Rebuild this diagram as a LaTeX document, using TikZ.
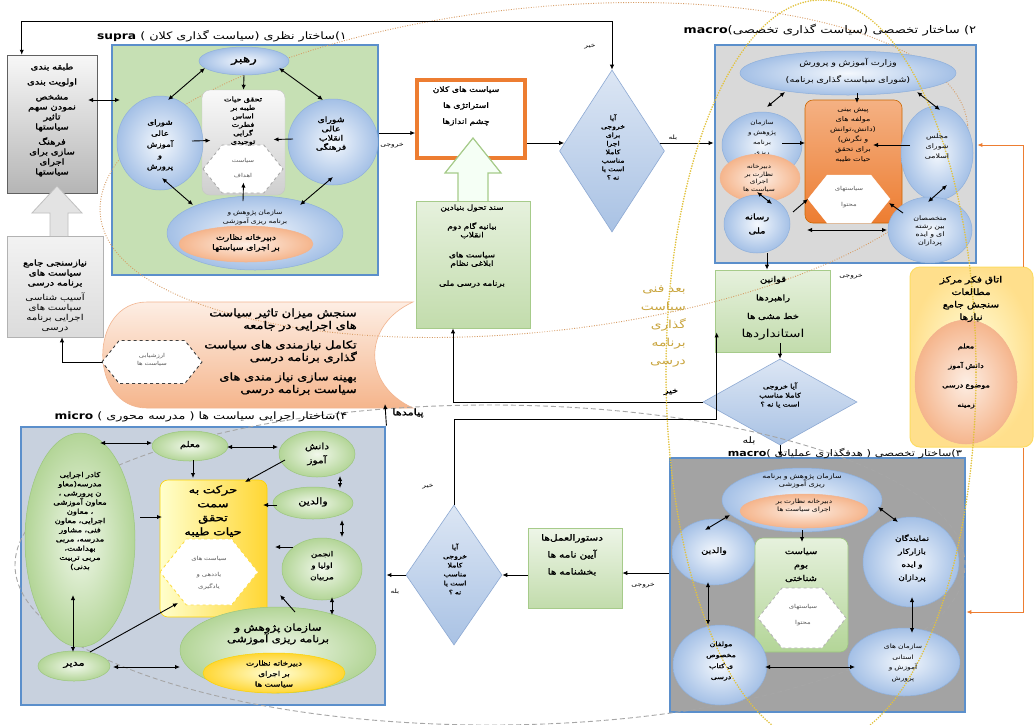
\documentclass[tikz,border=0pt]{standalone}
\usepackage{fontspec}
\usetikzlibrary{shapes.geometric,arrows.meta,calc}
\TeXXeTstate=1
\newfontfamily\fa[Script=Arabic,FakeStretch=1.25,BoldFont={DejaVu Sans},BoldFeatures={FakeBold=1.4}]{DejaVu Sans}
\newfontfamily\lat[FakeStretch=1.2]{DejaVu Sans}
\newcommand{\rl}[1]{\beginR#1\endR}
\definecolor{fblue}{HTML}{5B8FCB}
\definecolor{supg}{HTML}{C6E0B4}
\definecolor{macg}{HTML}{D9D9D9}
\definecolor{macd}{HTML}{A3A3A3}
\definecolor{micb}{HTML}{C8D1DE}
\definecolor{ellin}{HTML}{F4F8FD}
\definecolor{ellout}{HTML}{A4C0E6}
\definecolor{elldr}{HTML}{8FB0DB}
\definecolor{salin}{HTML}{FDEEE4}
\definecolor{salout}{HTML}{F5B58C}
\definecolor{saldr}{HTML}{F2B48F}
\definecolor{grin}{HTML}{F1F8EB}
\definecolor{grout}{HTML}{B3D597}
\definecolor{grdr}{HTML}{9CC67E}
\definecolor{orng}{HTML}{ED7D31}
\definecolor{goldt}{HTML}{C9A53E}
\definecolor{doty}{HTML}{E2C23C}
\definecolor{doto}{HTML}{D79B62}
\definecolor{dashg}{HTML}{A6A6A6}
\definecolor{diain}{HTML}{DCE6F4}
\definecolor{diaout}{HTML}{A9C2E4}
\definecolor{diadr}{HTML}{8DA9D3}
\definecolor{gbt}{HTML}{E6F1DD}
\definecolor{gbb}{HTML}{C2DCAC}
\definecolor{gbd}{HTML}{A6CB8A}
\newcommand{\hexa}[5][]{\path[#1] ({#2-#4},{#3}) -- ({#2-#4+0.8*#5},{#3-#5}) -- ({#2+#4-0.8*#5},{#3-#5}) -- ({#2+#4},{#3}) -- ({#2+#4-0.8*#5},{#3+#5}) -- ({#2-#4+0.8*#5},{#3+#5}) -- cycle;}
\begin{document}
\begin{tikzpicture}[x=1pt,y=-1pt,
  arr/.style={-{Latex[length=5pt,width=4.4pt]}, line width=0.9pt},
  darr/.style={{Latex[length=5pt,width=4.4pt]}-{Latex[length=5pt,width=4.4pt]}, line width=0.9pt},
  oarr/.style={-{Latex[length=5pt,width=4.4pt]}, line width=0.9pt, draw=orng, color=orng},
  bframe/.style={draw=fblue, line width=2.8pt, inner sep=0pt},
  blell/.style={ellipse, inner sep=0pt, draw=elldr, line width=0.5pt, inner color=ellin, outer color=ellout},
  grell/.style={ellipse, inner sep=0pt, draw=grdr, line width=0.5pt, inner color=grin, outer color=grout},
  salell/.style={ellipse, inner sep=0pt, draw=saldr, line width=0.5pt, inner color=salin, outer color=salout},
  dia/.style={diamond, inner sep=0pt, draw=diadr, line width=0.6pt, top color=diain, bottom color=diaout},
  gbx/.style={rectangle, inner sep=0pt, draw=gbd, line width=0.7pt, top color=gbt, bottom color=gbb},
  fa/.style n args={3}{inner sep=0pt, align=center, text width=#1, font=\fa\fontsize{#2}{#3}\selectfont},
  lbl/.style={inner sep=0pt, font=\fa\fontsize{#1}{#1}\selectfont, execute at begin node={\beginR}, execute at end node={\endR}},
  lbl/.default=6,
  hx/.style={fill=white, draw=dashg, dashed, line width=0.8pt},
]
\useasboundingbox (0,0) rectangle (1035,724);
\fill[white] (0,0) rectangle (1035,724);

% ---------- frames ----------
\node[bframe, fill=supg, minimum width=266pt, minimum height=230pt] (supra) at (245,160) {};
\node[bframe, fill=macg, minimum width=261pt, minimum height=218pt] (mac2) at (845.5,154) {};
\node[bframe, fill=macd, minimum width=295pt, minimum height=254pt] (mac3) at (817.5,585) {};
\node[bframe, fill=micb, minimum width=364pt, minimum height=278pt] (micro) at (203,566) {};

% ---------- left gray boxes ----------
\node[draw=gray!75!black, line width=0.5pt, top color=gray!6, bottom color=gray!58, minimum width=90pt, minimum height=138pt, inner sep=0pt] (grayb) at (52,124) {};
\node[draw=gray!60, line width=0.5pt, top color=gray!10, bottom color=gray!28, minimum width=96pt, minimum height=101pt, inner sep=0pt] (lowb) at (55,286.5) {};
\draw[draw=gray!50, fill=gray!22, line width=0.8pt] (50,236) -- (50,213) -- (32,213) -- (57,186) -- (82,213) -- (68,213) -- (68,236);

% ---------- salmon outcome shape ----------
\path[draw=saldr, line width=0.6pt, top color=salin, bottom color=salout] (147,302) -- (413,302) .. controls (362,325) and (362,385) .. (413,408) -- (147,408) .. controls (88,408) and (88,302) .. (147,302) -- cycle;
\hexa[fill=white, draw=black!75, dashed, line width=0.9pt]{152}{362}{50}{21.5}
\coordinate (evalW) at (102,362);
\coordinate (outc) at (385,404);

% ---------- middle boxes ----------
\node[draw=orng, line width=3.5pt, fill=white, minimum width=108pt, minimum height=78pt, inner sep=0pt] (orgb) at (471,119) {};
\draw[fill=green!4!white, draw=gbd, line width=1.2pt] (458,202) -- (458,173) -- (445,173) -- (473,138) -- (501,173) -- (488,173) -- (488,202);
\node[gbx, minimum width=114pt, minimum height=127pt] (gbox) at (473,264.5) {};
\node[gbx, minimum width=115pt, minimum height=82pt] (laws) at (772.5,311) {};
\node[gbx, top color=gbt!70!white, minimum width=94pt, minimum height=80pt] (dostur) at (575,568) {};
\node[rounded corners=10pt, draw=yellow!60!orange!60, line width=1pt, inner color=yellow!12, outer color=yellow!45!orange!45, minimum width=123pt, minimum height=180pt, inner sep=0pt] (yel) at (971.5,357) {};

\node[dia, minimum width=105pt, minimum height=162pt] (d1) at (612,151) {};
\node[dia, minimum width=154pt, minimum height=86pt] (d2) at (780,402) {};
\node[dia, minimum width=96pt, minimum height=140pt] (d3) at (454,575) {};

% ---------- big dotted / dashed ellipses ----------
\draw[doto, line width=0.9pt, dash pattern=on 0.9pt off 1.6pt, rotate around={6:(534,170)}] (534,170) ellipse [x radius=436pt, y radius=162pt];
\draw[dashg, line width=0.9pt, dash pattern=on 5pt off 3pt] (490,565) ellipse [x radius=475pt, y radius=160pt];

% ---------- supra internals ----------
\node[blell, minimum width=90pt, minimum height=28pt] (rahbar) at (244,61) {};
\node[rounded corners=8pt, draw=gray!45, top color=gray!5, bottom color=gray!38, minimum width=83pt, minimum height=105pt, inner sep=0pt] (cent) at (243.5,142.5) {};
\hexa[hx]{243}{169}{40}{24}
\node[blell, minimum width=86pt, minimum height=94pt] (sh1) at (160,143) {};
\node[blell, minimum width=90pt, minimum height=86pt] (sh2) at (333,142) {};
\node[blell, minimum width=176pt, minimum height=74pt] (sazS) at (255,233) {};
\node[salell, minimum width=134pt, minimum height=36pt] (dabS) at (246,244) {};

% ---------- macro 2 internals ----------
\node[blell, minimum width=216pt, minimum height=44pt] (vez) at (848,73) {};
\node[rounded corners=8pt, draw=orange!80!black, line width=0.6pt, top color=orng!60!white, bottom color=orng, minimum width=97pt, minimum height=123pt, inner sep=0pt] (orng) at (853.5,161.5) {};
\hexa[fill=white, draw=white]{849}{199}{41}{24}
\coordinate (hexM) at (849,199);
\node[blell, minimum width=80pt, minimum height=66pt] (sazM) at (762,145) {};
\node[fa={70pt}{5.8}{10}] (sazM-t) at (762,143) {\rl{سازمان}\\\rl{پژوهش و}\\\rl{برنامه}\\\rl{ریزی}\\\rl{آموزشی}};
\node[salell, minimum width=80pt, minimum height=48pt] (dabM) at (760,178) {};
\node[blell, minimum width=66pt, minimum height=58pt] (rasane) at (757,224) {};
\node[blell, minimum width=72pt, minimum height=94pt] (majles) at (937,153) {};
\node[blell, minimum width=84pt, minimum height=66pt] (motakh) at (930,230) {};
\node[salell, minimum width=102pt, minimum height=124pt] (yelE) at (966,382) {};

% ---------- macro 3 internals ----------
\node[blell, minimum width=160pt, minimum height=64pt] (sazM3) at (802,500) {};
\node[salell, minimum width=128pt, minimum height=34pt] (dabM3) at (804,511) {};
\node[blell, minimum width=84pt, minimum height=66pt] (valM3) at (714,552) {};
\node[rounded corners=8pt, draw=grdr, line width=0.6pt, top color=gbt, bottom color=grout, minimum width=93pt, minimum height=114pt, inner sep=0pt] (grnR) at (801.5,595) {};
\hexa[fill=white, draw=gray!60, dashed, line width=0.8pt]{802}{618}{44}{30}
\node[blell, minimum width=96pt, minimum height=90pt] (nama) at (911,562) {};
\node[blell, minimum width=94pt, minimum height=80pt] (moal) at (720,665) {};
\node[blell, minimum width=112pt, minimum height=68pt] (ostan) at (904,662) {};

% ---------- micro internals ----------
\node[grell, minimum width=76pt, minimum height=30pt] (moalem) at (190,446) {};
\node[grell, minimum width=76pt, minimum height=46pt] (danesh) at (317,454) {};
\node[grell, minimum width=80pt, minimum height=32pt] (valM) at (313,503) {};
\node[grell, minimum width=80pt, minimum height=62pt] (anjoman) at (322,569) {};
\node[rounded corners=8pt, draw=yellow!70!orange, line width=0.6pt, left color=yellow!20, right color=yellow!60!orange!80, minimum width=107pt, minimum height=137pt, inner sep=0pt] (yrect) at (213.5,548.5) {};
\hexa[fill=white, draw=yellow!70!orange!70, dashed, line width=0.9pt]{209}{572}{49}{33}
\node[grell, minimum width=110pt, minimum height=214pt] (kadr) at (80,540) {};
\node[grell, minimum width=72pt, minimum height=30pt] (modir) at (74,666) {};
\node[grell, minimum width=196pt, minimum height=86pt] (sazMi) at (278,650) {};
\node[ellipse, inner sep=0pt, draw=yellow!70!orange, line width=0.5pt, inner color=yellow!15, outer color=yellow!60!orange!80, minimum width=142pt, minimum height=40pt] (dabMi) at (274,673) {};

% ---------- arrows: supra ----------
\draw[darr] ($(rahbar)+(-39,7)$) -- ($(sh1)+(8,-43)$);
\draw[darr] ($(rahbar)+(35,7)$) -- ($(sh2)+(-10,-42)$);
\draw[arr] (rahbar.south) -- (cent.north);
\draw[arr] ($(sh1)+(32,-2)$) -- ($(cent)+(-33,-2)$);
\draw[arr] ($(sh2)+(-40,-3)$) -- ($(cent)+(30,-3)$);
\draw[arr] ($(sazS)+(-12,-32)$) -- ($(cent)+(0,40)$);
\draw[darr] ($(sh1)+(2,35)$) -- ($(sazS)+(-62,-28)$);
\draw[darr] ($(sh2)+(0,35)$) -- ($(sazS)+(45,-28)$);
\draw[darr] ($(grayb)+(36,-24)$) -- ($(supra)+(-125,-60)$);

% ---------- arrows: macro 2 ----------
\draw[darr] ($(vez)+(-63,19)$) -- ($(sazM)+(5,-38)$);
\draw[arr] ($(vez)+(9,20)$) -- ($(orng)+(3.5,-58.5)$);
\draw[darr] ($(vez)+(69,19)$) -- ($(majles)+(3,-43)$);
\draw[arr] ($(sazM)+(20,-2)$) -- ($(orng)+(-48.5,-18.5)$);
\draw[arr] ($(majles)+(-27,-8)$) -- ($(orng)+(19.5,-16.5)$);
\draw[darr] ($(majles)+(10,32)$) -- ($(motakh)+(-2,-28)$);
\draw[darr] ($(dabM)+(-3,14)$) -- ($(rasane)+(15,-20)$);
\draw[arr] ($(rasane)+(36,-12)$) -- ($(hexM)+(-41,0)$);
\draw[arr] ($(motakh)+(-27,-17)$) -- ($(hexM)+(40,4)$);
\draw[darr] ($(rasane)+(50,6)$) -- ($(motakh)+(-43,0)$);

% ---------- arrows: macro 3 ----------
\draw[darr] ($(sazM3)+(-72,15)$) -- ($(valM3)+(-9,-22)$);
\draw[arr] ($(sazM3)+(0,30)$) -- ($(grnR)+(0.5,-53)$);
\draw[darr] ($(sazM3)+(76,7)$) -- ($(nama)+(-13,-40)$);
\draw[darr] ($(valM3)+(-6,30)$) -- ($(moal)+(-12,-40)$);
\draw[darr] ($(nama)+(1,35)$) -- ($(ostan)+(8,-29)$);
\draw[darr] ($(moal)+(45,2)$) -- ($(ostan)+(-49,5)$);

% ---------- arrows: micro ----------
\draw[darr] ($(kadr)+(20,-97)$) -- ($(moalem)+(-38,-3)$);
\draw[darr] ($(moalem)+(37,1)$) -- ($(danesh)+(-39,-7)$);
\draw[arr] ($(moalem)+(3,14)$) -- ($(yrect)+(-20.5,-70.5)$);
\draw[arr] ($(danesh)+(-32,6)$) -- ($(yrect)+(31.5,-66.5)$);
\draw[darr] ($(danesh)+(23,22)$) -- ($(valM)+(27,-15)$);
\draw[arr] ($(valM)+(-36,2)$) -- ($(yrect)+(49.5,-43.5)$);
\draw[darr] ($(valM)+(29,17)$) -- ($(anjoman)+(20,-32)$);
\draw[arr] ($(anjoman)+(-29,-22)$) -- ($(yrect)+(61.5,-1.5)$);
\draw[arr] ($(kadr)+(60,-23)$) -- ($(yrect)+(-51.5,-31.5)$);
\draw[arr] ($(sazMi)+(17,-38)$) -- ($(yrect)+(66.5,46.5)$);
\draw[darr] ($(anjoman)+(10,28)$) -- ($(sazMi)+(54,-35)$);
\draw[darr] ($(kadr)+(-7,55)$) -- ($(modir)+(-1,-14)$);
\draw[arr] ($(modir)+(16,-14)$) -- ($(yrect)+(-35.5,54.5)$);
\draw[darr] ($(modir)+(39,1)$) -- ($(sazMi)+(-98,17)$);

% ---------- arrows: flow ----------
\draw[darr] (d1.north) |- ($(grayb.north west)+(15,-33)$) -- ($(grayb.north west)+(15,0)$);
\draw[arr] ($(supra.east)+(0,-27)$) -- ($(orgb.west)+(0,14)$);
\draw[arr] ($(orgb.east)+(0,24)$) -- ($(d1.west)+(5,-8)$);
\draw[arr] ($(d1.east)+(-5,-8)$) -- ($(mac2.west)+(0,-11)$);
\draw[arr] ($(rasane.south)+(10,0)$) -- ($(laws.north)+(-5.5,0)$);
\draw[arr] ($(laws.south)+(7.5,-9)$) -- (d2.north);
\draw[arr] (d2.west) -| ($(gbox.south)+(-20,0)$);
\draw[arr] (d2.south) -- ($(mac3.north)+(-37.5,0)$);
\draw[arr] (d3.north) |- ($(laws.south west)+(2,67)$) -- ($(laws.south west)+(2,-20)$);
\draw[arr] ($(mac3.west)+(0,-12)$) -- ($(dostur.east)+(0,5)$);
\draw[arr] (dostur.west |- d3.east) -- (d3.east);
\draw[arr] (d3.west) -- (micro.east |- d3.west);
\draw[arr] (micro.north east) -- (outc);
\draw[arr] (evalW) -| ($(lowb.south)+(7,0)$);
\draw[oarr] ($(yel.north east)+(-10,0)$) |- ($(mac2.east)+(0,-9)$);
\draw[oarr] ($(yel.south east)+(-10,0)$) |- ($(mac3.east)+(0,27)$);

% ---------- yellow dotted ellipse (on top) ----------
\draw[doty, line width=1.8pt, line cap=round, dash pattern=on 0pt off 2.6pt] (821,372) ellipse [x radius=155pt, y radius=372pt];

% ---------- titles ----------
\node[lbl=10.2] (supra-ti) at (222,36) {۱)ساختار نظری (سیاست گذاری کلان ) \beginL{\lat\bfseries supra}\endL};
\node[lbl=10.5] (mac2-ti) at (830,30) {۲) ساختار تخصصی (سیاست گذاری تخصصی)\beginL{\lat\bfseries macro}\endL};
\node[lbl=9.2] (mac3-ti) at (845,453) {۳)ساختار تخصصی ( هدفگذاری عملیاتی )\beginL{\lat\bfseries macro}\endL};
\node[lbl=10.2] (mic-ti) at (201,417) {۴)ساختار اجرایی سیاست ها ( مدرسه محوری ) \beginL{\lat\bfseries micro}\endL};

% ---------- texts: left ----------
\node[fa={88pt}{8}{10}] (grayb-t) at (52,120) {\bfseries\rl{طبقه بندی}\\[5pt]\rl{اولویت بندی}\\[5pt]\rl{مشخص}\\\rl{نمودن سهم}\\\rl{تاثیر}\\\rl{سیاستها}\\[5pt]\rl{فرهنگ}\\\rl{سازی برای}\\\rl{اجرای}\\\rl{سیاستها}};
\node[fa={94pt}{8.2}{10}] (lowb-t) at (55,296) {{\bfseries\rl{نیازسنجی جامع}\\\rl{سیاست های}\\\rl{برنامه درسی}}\\[5pt]\rl{آسیب شناسی}\\\rl{سیاست های}\\\rl{اجرایی برنامه}\\\rl{درسی}};
\node[fa={210pt}{10.5}{12.5}, align=right, anchor=east] (salm-t) at (357,352) {\bfseries\rl{سنجش میزان تاثیر سیاست}\\\rl{های اجرایی در جامعه}\\[7pt]\rl{تکامل نیازمندی های سیاست}\\\rl{گذاری برنامه درسی}\\[7pt]\rl{بهینه سازی نیاز مندی های}\\\rl{سیاست برنامه درسی}};
\node[fa={60pt}{5.5}{8}, text=gray!70!black] (evalhex-t) at (152,360) {\rl{ارزشیابی}\\\rl{سیاست ها}};

% ---------- texts: supra ----------
\node[lbl=11] (rahbar-t) at (rahbar) {\bfseries رهبر};
\node[fa={78pt}{6.5}{8.5}] (cent-t) at (243,121) {\bfseries\rl{تحقق حیات}\\\rl{طیبه بر}\\\rl{اساس}\\\rl{فطرت}\\\rl{گرایی}\\\rl{توحیدی}};
\node[fa={40pt}{5.5}{15}, text=gray!70!black] (hexS-t) at (243,168) {\rl{سیاست}\\\rl{اهداف}};
\node[fa={70pt}{7}{11}] (sh1-t) at (160,145) {\bfseries\rl{شورای}\\\rl{عالی}\\\rl{آموزش}\\\rl{و}\\\rl{پرورش}};
\node[fa={70pt}{7.5}{9.2}] (sh2-t) at (331,134) {\bfseries\rl{شورای}\\\rl{عالی}\\\rl{انقلاب}\\\rl{فرهنگی}};
\node[fa={140pt}{6}{9}] (sazS-t) at (255,217) {\rl{سازمان پژوهش و}\\\rl{برنامه ریزی آموزشی}};
\node[fa={130pt}{7.5}{10}] (dabS-t) at (246,243) {\bfseries\rl{دبیرخانه نظارت}\\\rl{بر اجرای سیاستها}};

% ---------- texts: middle ----------
\node[fa={105pt}{7.4}{16}] (orgb-t) at (466,106) {\bfseries\rl{سیاست های کلان}\\\rl{استراتژی ها}\\\rl{چشم اندازها}};
\node[fa={55pt}{6.2}{8.5}] (d1-t) at (613,147) {\bfseries\rl{آیا}\\\rl{خروجی}\\\rl{برای}\\\rl{اجرا}\\\rl{کاملا}\\\rl{مناسب}\\\rl{است یا}\\\rl{نه ؟}};
\node[fa={110pt}{7.2}{8.5}] (gbox-t) at (472,246) {\bfseries\rl{سند تحول بنیادین}\\[10.5pt]\rl{بیانیه گام دوم}\\\rl{انقلاب}\\[11.5pt]\rl{سیاست های}\\\rl{ابلاغی نظام}\\[11.5pt]\rl{برنامه درسی ملی}};
\node[fa={110pt}{8}{18.5}] (laws-t) at (773,308) {\bfseries\rl{قوانین}\\\rl{راهبردها}\\\rl{خط مشی ها}\\{\mdseries\fontsize{11}{12}\selectfont\rl{استانداردها}}};
\node[fa={90pt}{6.5}{9}] (d2-t) at (780,395) {\bfseries\rl{آیا خروجی}\\\rl{کاملا مناسب}\\\rl{است یا نه ؟}};
\node[fa={70pt}{11}{18}, align=right, text=goldt, anchor=east] (gold-t) at (686,326) {\rl{بعد فنی}\\\rl{سیاست}\\\rl{گذاری}\\\rl{برنامه}\\\rl{درسی}};
\node[fa={92pt}{8.5}{17}] (dostur-t) at (572,555) {\bfseries\rl{دستورالعمل‌ها}\\\rl{آیین نامه ها}\\\rl{بخشنامه ها}};
\node[fa={55pt}{6.2}{9}] (d3-t) at (455,569) {\bfseries\rl{آیا}\\\rl{خروجی}\\\rl{کاملا}\\\rl{مناسب}\\\rl{است یا}\\\rl{نه ؟}};

% ---------- texts: macro 2 ----------
\node[fa={200pt}{7.8}{17}] (vez-t) at (848,71.5) {\rl{وزارت آموزش و پرورش}\\\rl{(شورای سیاست گذاری برنامه)}};
\node[fa={95pt}{6.5}{10}] (orng-t) at (853,135) {\rl{پیش بینی}\\\rl{مولفه های}\\\rl{(دانش،توانش}\\\rl{و نگرش)}\\\rl{برای تحقق}\\\rl{حیات طیبه}};
\node[fa={60pt}{5.5}{16}, text=gray!70!black] (hexM-t) at (849,197) {\rl{سیاستهای}\\\rl{محتوا}};
\node[fa={70pt}{5.8}{7.5}] (dabM-t) at (759,178) {\rl{دبیرخانه}\\\rl{نظارت بر}\\\rl{اجرای}\\\rl{سیاست ها}};
\node[fa={60pt}{8}{14}] (rasane-t) at (757,224) {\bfseries\rl{رسانه}\\\rl{ملی}};
\node[fa={65pt}{6.3}{10}] (majles-t) at (937,147) {\rl{مجلس}\\\rl{شورای}\\\rl{اسلامی}};
\node[fa={80pt}{6.3}{8}] (motakh-t) at (930,231) {\rl{متخصصان}\\\rl{بین رشته}\\\rl{ای و ایده}\\\rl{پردازان}};
\node[fa={118pt}{8.5}{12.5}] (yel-t) at (971,299) {\bfseries\rl{اتاق فکر مرکز}\\\rl{مطالعات}\\\rl{سنجش جامع}\\\rl{نیازها}};
\node[fa={95pt}{6.5}{19.5}] (yelE-t) at (966,376) {\bfseries\rl{معلم}\\\rl{دانش آموز}\\\rl{موضوع درسی}\\\rl{زمینه}};

% ---------- texts: macro 3 ----------
\node[fa={150pt}{6.3}{7.5}] (sazM3-t) at (802,481) {\rl{سازمان پژوهش و برنامه}\\\rl{ریزی آموزشی}};
\node[fa={125pt}{6}{7.5}] (dabM3-t) at (804,506) {\rl{دبیرخانه نظارت بر}\\\rl{اجرای سیاست ها}};
\node[lbl=7.8] (valM3-t) at (714,551) {\bfseries والدین};
\node[fa={90pt}{8}{13.5}] (grnR-t) at (801,565) {\bfseries\rl{سیاست}\\\rl{بوم}\\\rl{شناختی}};
\node[fa={70pt}{5.5}{16}, text=gray!70!black] (hexM3-t) at (803,615) {\rl{سیاستهای}\\\rl{محتوا}};
\node[fa={90pt}{7.2}{13}] (nama-t) at (912,558) {\bfseries\rl{نمایندگان}\\\rl{بازارکار}\\\rl{و ایده}\\\rl{پردازان}};
\node[fa={85pt}{6.3}{11}] (moal-t) at (721,661) {\bfseries\rl{مولفان}\\\rl{مخصوص}\\\rl{ی کتاب}\\\rl{درسی}};
\node[fa={100pt}{6}{10.5}] (ostan-t) at (903,663) {\rl{سازمان های}\\\rl{استانی}\\\rl{آموزش و}\\\rl{پرورش}};

% ---------- texts: micro ----------
\node[lbl=8] (moalem-t) at (190,445) {\bfseries معلم};
\node[fa={70pt}{8.5}{14}] (danesh-t) at (317,454) {\bfseries\rl{دانش}\\\rl{آموز}};
\node[lbl=9] (valM-t) at (313,502) {\bfseries والدین};
\node[fa={75pt}{7}{11.5}] (anjoman-t) at (322,566) {\bfseries\rl{انجمن}\\\rl{اولیا و}\\\rl{مربیان}};
\node[fa={105pt}{10.5}{14}] (yrect-t) at (213,511) {\bfseries\rl{حرکت به}\\\rl{سمت}\\\rl{تحقق}\\\rl{حیات طیبه}};
\node[fa={80pt}{5.5}{12}, text=gray!70!black] (hexY-t) at (209,573) {\rl{سیاست های}\\[4pt]\rl{یاددهی و}\\\rl{یادگیری}};
\node[fa={105pt}{6.8}{9.2}] (kadr-t) at (80,521) {\bfseries\rl{کادر اجرایی}\\\rl{مدرسه(معاو}\\\rl{ن پرورشی ،}\\\rl{معاون آموزشی}\\\rl{، معاون}\\\rl{اجرایی، معاون}\\\rl{فنی، مشاور}\\\rl{مدرسه، مربی}\\\rl{بهداشت،}\\\rl{مربی تربیت}\\\rl{بدنی)}};
\node[lbl=9] (modir-t) at (74,665) {\bfseries مدیر};
\node[fa={190pt}{9.5}{11.5}] (sazMi-t) at (278,634) {\bfseries\rl{سازمان پژوهش و}\\\rl{برنامه ریزی آموزشی}};
\node[fa={130pt}{7}{10.5}] (dabMi-t) at (274,674) {\bfseries\rl{دبیرخانه نظارت}\\\rl{بر اجرای}\\\rl{سیاست ها}};

% ---------- labels ----------
\node[lbl] (lb1) at (392,146) {خروجی};
\node[lbl] (lb2) at (590,47) {خیر};
\node[lbl] (lb3) at (673,138) {بله};
\node[lbl] (lb4) at (851,277) {خروجی};
\node[lbl=7.7] (lb5) at (671,392) {\bfseries خیر};
\node[lbl=9] (lb6) at (749,441) {بله};
\node[lbl] (lb7) at (428,487) {خیر};
\node[lbl] (lb8) at (643,586) {خروجی};
\node[lbl] (lb9) at (395,592) {بله};
\node[lbl=9] (lb10) at (408,413) {\bfseries پیامدها};
\node[lbl=13, text=gray!80!black] (lb11) at (492,709) {بعد محتاطانه سیاست گذاری برنامه درسی};
\end{tikzpicture}
\end{document}
